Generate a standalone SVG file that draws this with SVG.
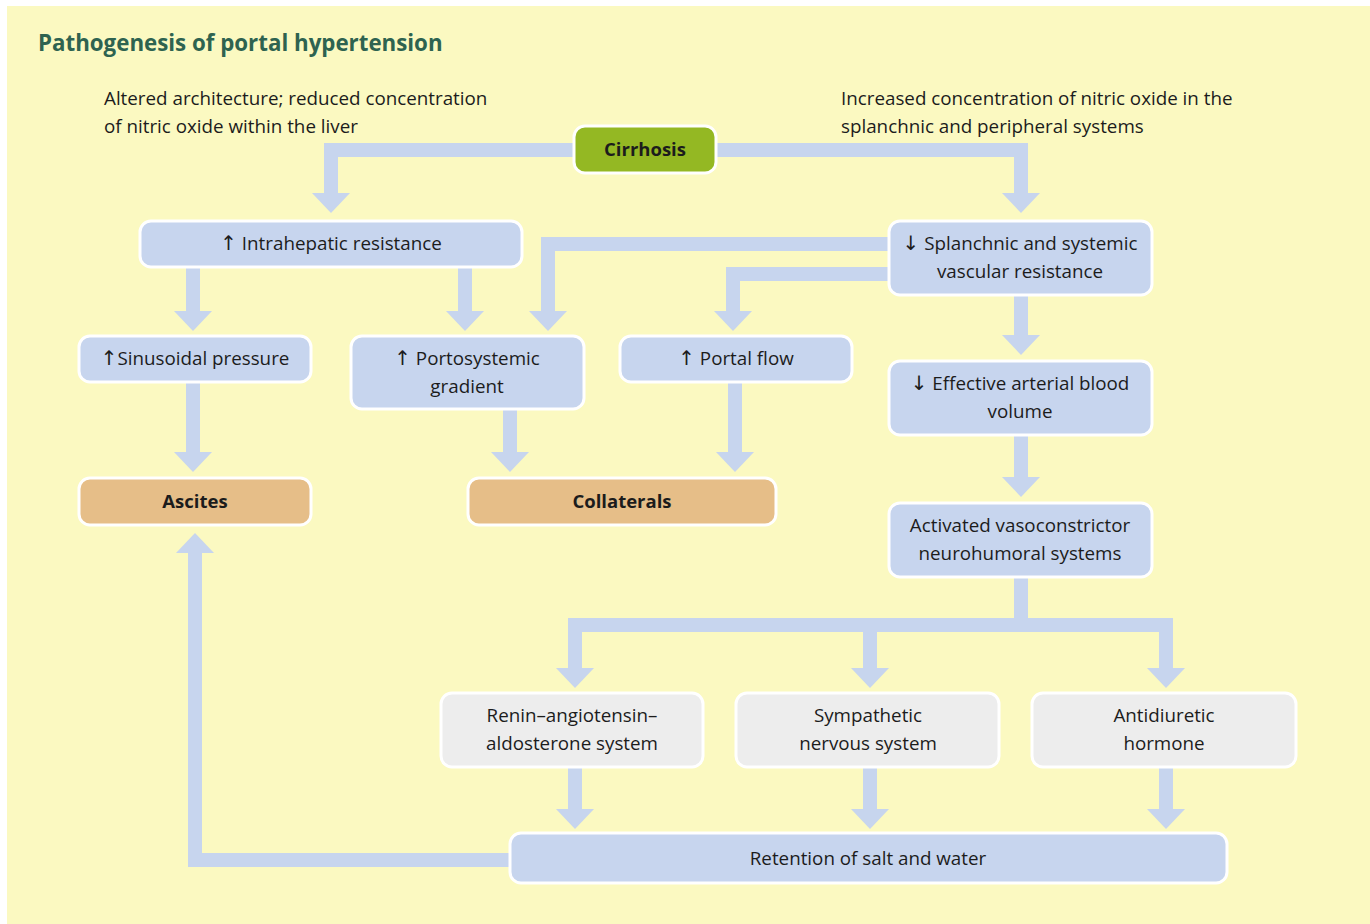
<svg xmlns="http://www.w3.org/2000/svg" width="1370" height="924" viewBox="0 0 1370 924">
<defs>
<style>
.bg{fill:#FBF9C1}
.n rect{stroke:#fff;stroke-width:3}
.b rect{fill:#C7D5EE}
.g rect{fill:#EDEDED}
.o rect{fill:#E6BE88}
.c rect{fill:#94B823}
text{font-family:"Open Sans","Liberation Sans",sans-serif;font-size:18.8px;fill:#1c1c1c;text-anchor:middle}
.ar{font-family:"DejaVu Sans",sans-serif;font-size:20px}
.bold{font-weight:bold;font-size:18.5px}
.note{text-anchor:start}
.title{font-family:"Open Sans","Liberation Sans",sans-serif;font-size:22.3px;font-weight:bold;fill:#2E6350;text-anchor:start}
.conn path{fill:none;stroke:#C7D5EE;stroke-width:14;stroke-linejoin:miter;marker-end:url(#ah)}
</style>
<marker id="ah" markerUnits="userSpaceOnUse" viewBox="0 0 20 38" refX="0" refY="19" markerWidth="20" markerHeight="38" orient="auto">
<path d="M0,0 L20,19 L0,38 z" fill="#C7D5EE"/>
</marker>
</defs>
<rect class="bg" x="7" y="6" width="1363" height="918"/>
<text class="title" x="38" y="51">Pathogenesis of portal hypertension</text>
<text class="note" x="104" y="105">Altered architecture; reduced concentration</text>
<text class="note" x="104" y="133">of nitric oxide within the liver</text>
<text class="note" x="841" y="105">Increased concentration of nitric oxide in the</text>
<text class="note" x="841" y="133">splanchnic and peripheral systems</text>

<g class="conn">
<path d="M574,150 H331 V193"/>
<path d="M716,150 H1021 V193"/>
<path d="M193,268 V311"/>
<path d="M465,268 V311"/>
<path d="M889,244 H548 V311"/>
<path d="M889,274 H733 V311"/>
<path d="M1021,296 V335"/>
<path d="M193,383 V452"/>
<path d="M510,410 V452"/>
<path d="M735,383 V452"/>
<path d="M1021,436 V477"/>
<path d="M1021,578 V625 H575 V668"/>
<path d="M870,625 V668"/>
<path d="M1021,625 H1166 V668"/>
<path d="M575,768 V809"/>
<path d="M870,768 V809"/>
<path d="M1166,768 V809"/>
<path d="M510,860 H195 V553"/>
</g>

<g id="cirrhosis" class="n c"><rect x="574" y="126" width="142" height="47" rx="11"/><text class="bold" x="645" y="156">Cirrhosis</text></g>
<g id="intrahepatic" class="n b"><rect x="140" y="221" width="382" height="46" rx="11"/><text x="331" y="250"><tspan class="ar">↑</tspan> Intrahepatic resistance</text></g>
<g id="splanchnic" class="n b"><rect x="889" y="221" width="263" height="74" rx="11"/><text x="1020" y="250"><tspan class="ar">↓</tspan> Splanchnic and systemic</text><text x="1020" y="278">vascular resistance</text></g>
<g id="sinusoidal" class="n b"><rect x="79" y="336" width="232" height="46" rx="11"/><text x="195" y="365"><tspan class="ar">↑</tspan>Sinusoidal pressure</text></g>
<g id="portosystemic" class="n b"><rect x="351" y="336" width="233" height="73" rx="11"/><text x="467" y="365"><tspan class="ar">↑</tspan> Portosystemic</text><text x="467" y="393">gradient</text></g>
<g id="portalflow" class="n b"><rect x="620" y="336" width="232" height="46" rx="11"/><text x="736" y="365"><tspan class="ar">↑</tspan> Portal flow</text></g>
<g id="effective" class="n b"><rect x="889" y="361" width="263" height="74" rx="11"/><text x="1020" y="390"><tspan class="ar">↓</tspan> Effective arterial blood</text><text x="1020" y="418">volume</text></g>
<g id="ascites" class="n o"><rect x="79" y="478" width="232" height="47" rx="11"/><text class="bold" x="195" y="508">Ascites</text></g>
<g id="collaterals" class="n o"><rect x="468" y="478" width="308" height="47" rx="11"/><text class="bold" x="622" y="508">Collaterals</text></g>
<g id="activated" class="n b"><rect x="889" y="503" width="263" height="74" rx="11"/><text x="1020" y="532">Activated vasoconstrictor</text><text x="1020" y="560">neurohumoral systems</text></g>
<g id="renin" class="n g"><rect x="441" y="693" width="262" height="74" rx="11"/><text x="572" y="722">Renin–angiotensin–</text><text x="572" y="750">aldosterone system</text></g>
<g id="sympathetic" class="n g"><rect x="736" y="693" width="263" height="74" rx="11"/><text x="868" y="722">Sympathetic</text><text x="868" y="750">nervous system</text></g>
<g id="adh" class="n g"><rect x="1032" y="693" width="264" height="74" rx="11"/><text x="1164" y="722">Antidiuretic</text><text x="1164" y="750">hormone</text></g>
<g id="retention" class="n b"><rect x="510" y="833" width="717" height="50" rx="11"/><text x="868" y="865">Retention of salt and water</text></g>
</svg>
